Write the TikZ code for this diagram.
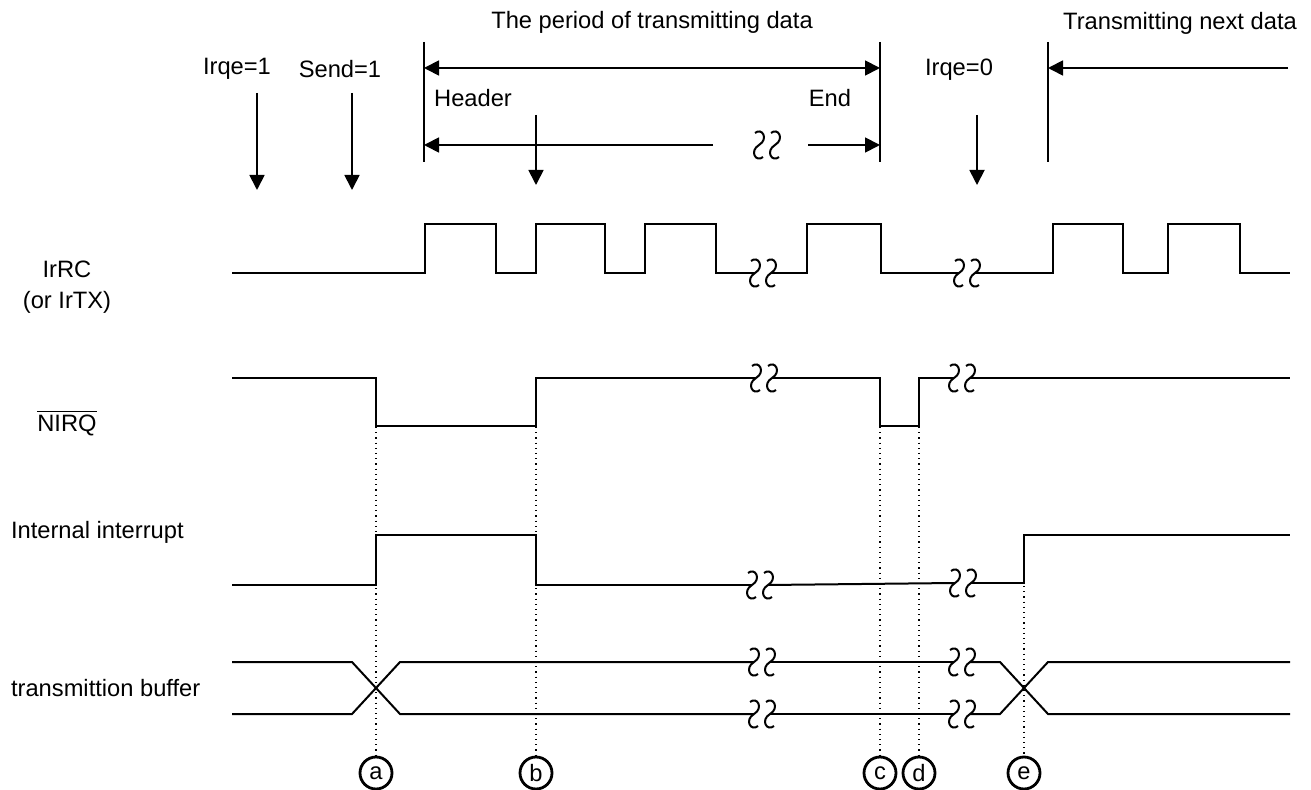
\documentclass[tikz,border=0pt]{standalone}
\usepackage{fontspec}
\setmainfont{Liberation Sans}
\usetikzlibrary{arrows.meta}

% two squiggles that break a line, centred at (#1,#2)
\newcommand\brk[2]{%
  \begin{scope}[shift={(#1,#2)}]
    \foreach \s in {-8,8}
      \draw[sig,shift={(\s,0)}] (-4,-12) .. controls (3,-18) and (10,-6) .. (0,0)
        .. controls (-10,6) and (-3,18) .. (4,12);
  \end{scope}}

\begin{document}
\begin{tikzpicture}[x=0.5pt,y=-0.5pt,
    every node/.style={font=\fontsize{11.85pt}{14pt}\selectfont},
    sig/.style={line width=1pt},
    bar/.style={line width=0.9pt},
    arr/.style={line width=0.9pt,-{Triangle[length=7.5pt,width=7.5pt]}},
    both/.style={line width=0.9pt,{Triangle[length=7.5pt,width=7.5pt]}-{Triangle[length=7.5pt,width=7.5pt]}},
    guide/.style={line width=0.6pt,dotted},
    evt/.style={circle,draw,line width=1.4pt,minimum size=16pt,inner sep=0pt}]
  \useasboundingbox (0,0) rectangle (1311,790);

  % labels on top
  \node (title) at (652,22) {The period of transmitting data};
  \node (next) at (1180,23) {Transmitting next data};
  \node (irqon) at (237,69) {Irqe=1};
  \node (send) at (340,69) {Send=1};
  \node (head) at (473,98) {Header};
  \node (tail) at (830,98) {End};
  \node (irqoff) at (959,70) {Irqe=0};

  % signal names
  \node (irrc) at (67,269) {IrRC};
  \node (irtx) at (67,302) {(or IrTX)};
  \node (nirq) at (67,423) {$\overline{\mbox{NIRQ}}$};
  \node[anchor=west] (intr) at (4,532) {Internal interrupt};
  \node[anchor=west] (buf) at (4,688) {transmittion buffer};

  % period bars and arrows
  \foreach \x in {424,880,1048}
    \draw[bar] (\x,42) -- (\x,162);
  \draw[both] (424,68) -- (880,68);
  \draw[arr] (713,145) -- (424,145);
  \draw[arr] (808,145) -- (880,145);
  \brk{767}{145}
  \draw[arr] (1288,68) -- (1048,68);

  % event arrows
  \draw[arr] (257,93) -- (257,190);
  \draw[arr] (352,93) -- (352,190);
  \draw[arr] (536,115) -- (536,185);
  \draw[arr] (977,115) -- (977,185);

  % IrRC
  \draw[sig] (232,273) -| (425,224) -| (496,273) -| (536,224) -| (605,273)
    -| (645,224) -| (716,273) -- (755,273);
  \brk{763}{273}
  \draw[sig] (771,273) -| (807,224) -| (881,273) -- (959,273);
  \brk{967}{273}
  \draw[sig] (975,273) -| (1053,224) -| (1123,273) -| (1168,224) -| (1240,273) -- (1290,273);

  % NIRQ
  \draw[sig] (232,378) -| (376,426) -| (536,378) -- (756,378);
  \brk{764}{378}
  \draw[sig] (772,378) -| (880,426) -| (919,378) -- (954,378);
  \brk{962}{378}
  \draw[sig] (970,378) -- (1290,378);

  % internal interrupt
  \draw[sig] (232,585) -| (376,535) -| (536,585) -- (752,585);
  \brk{760}{585}
  \draw[sig] (768,585) -- (955,583);
  \brk{963}{583}
  \draw[sig] (971,583) -| (1024,535) -- (1290,535);

  % transmission buffer
  \draw[sig] (232,662) -- (352,662) -- (400,714) -- (754,714);
  \draw[sig] (232,714) -- (352,714) -- (400,662) -- (754,662);
  \brk{762}{662}
  \brk{762}{714}
  \draw[sig] (770,662) -- (954,662);
  \draw[sig] (770,714) -- (954,714);
  \brk{962}{662}
  \brk{962}{714}
  \draw[sig] (970,662) -- (1000,662) -- (1048,714) -- (1290,714);
  \draw[sig] (970,714) -- (1000,714) -- (1048,662) -- (1290,662);

  % event marks
  \node[evt] (ea) at (376,773) {a};
  \node[evt] (eb) at (536,773) {b};
  \node[evt] (ec) at (880,773) {c};
  \node[evt] (ed) at (919,773) {d};
  \node[evt] (ee) at (1024,773) {e};
  \draw[guide] (376,427) -- (ea);
  \draw[guide] (536,427) -- (eb);
  \draw[guide] (880,427) -- (ec);
  \draw[guide] (919,427) -- (ed);
  \draw[guide] (1024,586) -- (ee);
\end{tikzpicture}
\end{document}
